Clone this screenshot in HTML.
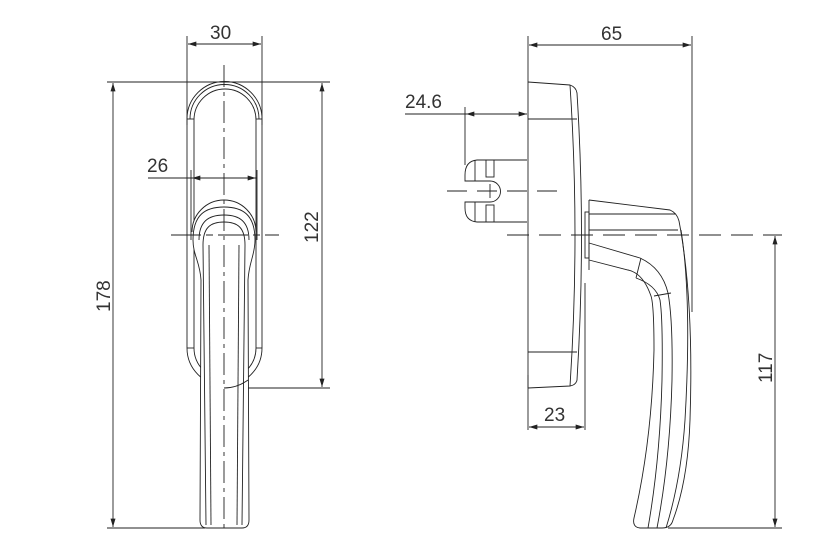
<!DOCTYPE html>
<html><head><meta charset="utf-8"><style>
html,body{margin:0;padding:0;background:#fff;}
svg{display:block;}
text{font-family:"Liberation Sans",sans-serif;font-size:19px;fill:#333;}
</style></head><body>
<svg width="815" height="560" viewBox="0 0 815 560" xmlns="http://www.w3.org/2000/svg">
<defs>
<marker id="a" viewBox="0 0 10 6" refX="10" refY="3" markerWidth="14" markerHeight="5" markerUnits="userSpaceOnUse" orient="auto-start-reverse"><path d="M0,0L10,3L0,6z" fill="#222"/></marker>
</defs>
<g stroke="#222" stroke-width="0.9" fill="none">
<!-- LEFT VIEW dimensions -->
<line x1="187" y1="36" x2="187" y2="125"/>
<line x1="262" y1="36" x2="262" y2="125"/>
<line x1="188" y1="44" x2="261" y2="44" marker-start="url(#a)" marker-end="url(#a)"/>
<line x1="107" y1="82" x2="330" y2="82"/>
<line x1="107" y1="528" x2="205" y2="528"/>
<line x1="113" y1="83" x2="113" y2="527" marker-start="url(#a)" marker-end="url(#a)"/>
<line x1="322" y1="83" x2="322" y2="387" marker-start="url(#a)" marker-end="url(#a)"/>
<line x1="224" y1="388" x2="330" y2="388"/>
<line x1="148" y1="178" x2="257" y2="178"/>
<line x1="192" y1="178" x2="256" y2="178" marker-start="url(#a)" marker-end="url(#a)"/>
<line x1="191" y1="170" x2="191" y2="240"/>
<line x1="257" y1="170" x2="257" y2="240"/>
<!-- escutcheon -->
<path d="M187,119 A37.5,37.5 0 0 1 262,119 L262,348 A37.5,37.5 0 0 1 187,348 Z"/>
<path d="M190,119 A34.5,34.5 0 0 1 259,119"/>
<path d="M194,120 A31,31 0 0 1 256,120 L256,348 A31,31 0 0 1 194,348 Z"/>
<line x1="187" y1="119" x2="194" y2="119"/><line x1="256" y1="119" x2="262" y2="119"/>
<line x1="187" y1="348" x2="194" y2="348"/><line x1="256" y1="348" x2="262" y2="348"/>
<!-- handle -->
<path d="M192,232 A32,32 0 0 1 256,232" fill="#fff"/>
<path d="M193,240 C193,215 205,207 224,207 C243,207 255,215 255,240 C255,255 249,262 248,280 L249,520 Q249,528 242,528 L207,528 Q200,528 200,520 L201,280 C200,262 193,255 193,240 Z" fill="#fff"/>
<path d="M199,240 C199,222 208,215 224,215 C240,215 249,222 249,240"/>
<path d="M203,245 C203,228 210,222 224,222 C238,222 245,228 245,245 L242,525 M206,525 L203,245"/>
<line x1="209" y1="245" x2="211" y2="525"/>
<line x1="239" y1="245" x2="237" y2="525"/>
<path d="M224,388 Q237,388 248,380"/>
<!-- centerlines -->
<line x1="224" y1="65" x2="224" y2="528" stroke-dasharray="22,5,4,5"/>
<line x1="171" y1="235" x2="279" y2="235" stroke-dasharray="30,5,7,5"/>

<!-- RIGHT VIEW dimensions -->
<line x1="528" y1="36" x2="528" y2="82"/>
<line x1="692" y1="36" x2="692" y2="312"/>
<line x1="529" y1="45" x2="691" y2="45" marker-start="url(#a)" marker-end="url(#a)"/>
<line x1="405" y1="114" x2="527" y2="114"/>
<line x1="466" y1="114" x2="527" y2="114" marker-start="url(#a)" marker-end="url(#a)"/>
<line x1="465" y1="107" x2="465" y2="165"/>
<line x1="528" y1="375" x2="528" y2="430"/>
<line x1="585" y1="283" x2="585" y2="430"/>
<line x1="529" y1="427" x2="584" y2="427" marker-start="url(#a)" marker-end="url(#a)"/>
<line x1="775" y1="236" x2="775" y2="527" marker-start="url(#a)" marker-end="url(#a)"/>
<line x1="668" y1="528" x2="782" y2="528"/>
<!-- centerlines -->
<line x1="447" y1="191" x2="562" y2="191" stroke-dasharray="20,10"/>
<line x1="507" y1="235" x2="782" y2="235" stroke-dasharray="22,10"/>
<!-- base plate -->
<line x1="528" y1="82" x2="528" y2="388"/>
<path d="M528,82 L570,85 Q576,87 577,93 Q586,235 577,380 Q576,385 570,386 L528,388"/>
<path d="M570,85 Q580,235 570,386"/>
<line x1="528" y1="119" x2="577" y2="119"/>
<line x1="528" y1="352" x2="577" y2="352"/>
<!-- spindle -->
<path d="M527,160 L477,160 Q465,161 465,175 L465,181 L490,181"/>
<path d="M527,222 L477,222 Q465,221 465,208 L465,202 L490,202"/>
<path d="M490,181 A10.5,10.5 0 0 1 490,202"/>
<line x1="475" y1="160" x2="475" y2="181"/><line x1="475" y1="202" x2="475" y2="222"/>
<rect x="486" y="160" width="8" height="17"/><rect x="486" y="205" width="8" height="17"/>
<line x1="490" y1="184" x2="490" y2="198"/>
<!-- rose and lever -->
<rect x="585" y="212" width="4" height="46"/>
<path d="M589,200 L589,270"/>
<path d="M589,200 L670,210 Q677,213 679,221 Q694,300 690,420 Q688,480 673,520 Q671,528 662,528 L640,528 Q632,527 634,518 Q652,440 654,350 Q654,305 651,296 Q643,273 628,270 L589,260"/>
<line x1="589" y1="214" x2="676" y2="214"/>
<line x1="589" y1="230" x2="678" y2="230"/>
<path d="M589,243 L640,258 Q662,268 668,293 Q673,320 672,380 Q670,460 657,528"/>
<path d="M641,258 L636,278"/>
<path d="M636,278 Q656,285 660,300 Q663,320 662,380 Q660,460 648,528"/>
<line x1="654" y1="296" x2="671" y2="293"/>
<path d="M681,230 Q692,300 685,420 Q681,480 666,528"/>
</g>
<text x="210" y="39">30</text>
<text x="147" y="172">26</text>
<text transform="translate(110,312) rotate(-90)">178</text>
<text transform="translate(318,243) rotate(-90)">122</text>
<text x="601" y="40">65</text>
<text x="405" y="108">24.6</text>
<text x="544" y="421">23</text>
<text transform="translate(772,383) rotate(-90)">117</text>
</svg>
</body></html>
